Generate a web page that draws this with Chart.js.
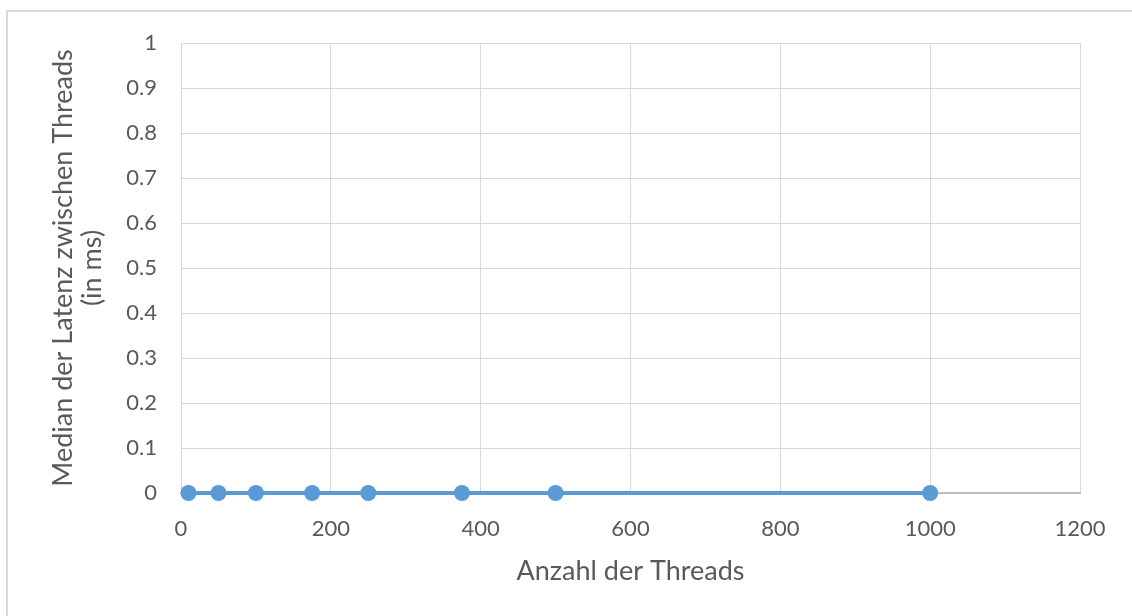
<!DOCTYPE html>
<html>
<head>
<meta charset="utf-8">
<script src="https://cdn.jsdelivr.net/npm/chart.js@4.4.1/dist/chart.umd.min.js"></script>
<style>
  html, body { margin: 0; padding: 0; background: #fff; }
  #wrap { position: relative; width: 1132px; height: 616px; overflow: hidden; }
  #frame {
    position: absolute; left: 6px; top: 10px; width: 1200px; height: 700px;
    border: 2px solid #d9d9d9; box-sizing: border-box; pointer-events: none;
  }
</style>
</head>
<body>
<div id="wrap">
  <canvas id="chart" width="1132" height="616"></canvas>
  <div id="frame"></div>
</div>
<script>
/* ─── Median latency vs. thread count ─────────────────────────── */

const threads   = [10, 50, 100, 175, 250, 375, 500, 1000];
const latencyMs = [0, 0, 0, 0, 0, 0, 0, 0];

const xTicks      = [0, 200, 400, 600, 800, 1000, 1200];
const xTickLabels = ['0', '200', '400', '600', '800', '1000', '1200'];
const yTicks      = [0, 0.1, 0.2, 0.3, 0.4, 0.5, 0.6, 0.7, 0.8, 0.9, 1];
const yTickLabels = ['0', '0.1', '0.2', '0.3', '0.4', '0.5', '0.6', '0.7', '0.8', '0.9', '1'];

const xTitle = 'Anzahl der Threads';
const yTitle = ['Median der Latenz zwischen Threads', '(in ms)'];

const TEXT  = '#595959';
const GRID  = '#d9d9d9';
const BLUE  = '#5b9bd5';
const FONT  = 'Lato, "Open Sans", sans-serif';

const points = threads.map((t, i) => ({ x: t, y: latencyMs[i] }));

new Chart(document.getElementById('chart'), {
  type: 'scatter',
  data: {
    datasets: [{
      data: points,
      showLine: true,
      borderColor: BLUE,
      backgroundColor: BLUE,
      borderWidth: 4,
      pointRadius: 8,
      pointBorderWidth: 0,
      pointBackgroundColor: BLUE,
      clip: false,
    }]
  },
  options: {
    responsive: false,
    animation: false,
    layout: { padding: { left: 0, right: 52, top: 43, bottom: 0 } },
    plugins: {
      legend: { display: false },
      tooltip: { enabled: false },
    },
    scales: {
      x: {
        type: 'linear',
        min: 0,
        max: 1200,
        afterBuildTicks: s => { s.ticks = xTicks.map(v => ({ value: v })); },
        afterFit: s => { s.height = 123; },
        grid: { color: GRID, lineWidth: 1, drawTicks: false },
        border: { color: '#bfbfbf', width: 2 },
        ticks: {
          padding: 23,
          color: TEXT,
          font: { family: FONT, size: 22 },
          maxRotation: 0,
          callback: (v, i) => xTickLabels[i],
        },
        title: {
          display: true,
          text: xTitle,
          color: TEXT,
          font: { family: FONT, size: 27, lineHeight: 1.1 },
          padding: { top: 0, bottom: 30 },
        },
      },
      y: {
        type: 'linear',
        min: 0,
        max: 1,
        afterBuildTicks: s => { s.ticks = yTicks.map(v => ({ value: v })); },
        afterFit: s => { s.width = 181; },
        grid: { color: GRID, lineWidth: 1, drawTicks: false },
        border: { color: GRID, width: 1 },
        ticks: {
          padding: 24,
          color: TEXT,
          font: { family: FONT, size: 22 },
          callback: (v, i) => yTickLabels[i],
        },
        title: {
          display: true,
          text: yTitle,
          color: TEXT,
          font: { family: FONT, size: 27, lineHeight: 1.1 },
          padding: { top: 48, bottom: 0 },
        },
      },
    },
  },
});
</script>
</body>
</html>
